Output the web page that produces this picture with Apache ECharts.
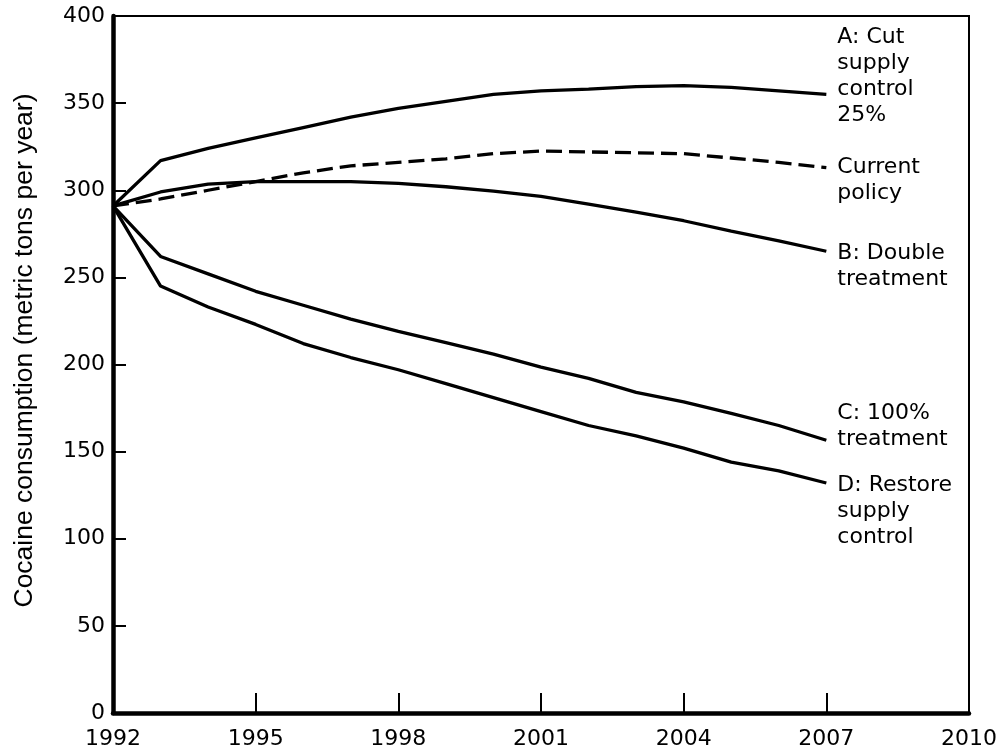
<!DOCTYPE html>
<html>
<head>
<meta charset="utf-8">
<script src="https://cdn.jsdelivr.net/npm/echarts@6/dist/echarts.min.js"></script>
<style>
  html, body { margin: 0; padding: 0; background: #fff; }
  #chart { width: 1008px; height: 753px; }
</style>
</head>
<body>
<div id="chart"></div>
<script>
// years along the x axis
const years = [1992, 1993, 1994, 1995, 1996, 1997, 1998, 1999, 2000, 2001, 2002, 2003, 2004, 2005, 2006, 2007];

// cocaine consumption, metric tons per year
const cutSupply25 = [291, 317, 324, 330, 336, 342, 347, 351, 355, 357, 358, 359.5, 360, 359, 357, 355];
const currentPolicy = [291, 295, 300, 305, 310, 314, 316, 318, 321, 322.5, 322, 321.5, 321, 318.5, 316, 313];
const doubleTreatment = [291, 299, 303.5, 305, 305, 305, 304, 302, 299.5, 296.5, 292, 287.5, 282.5, 276.5, 271, 265];
const fullTreatment = [291, 262, 252, 242, 234, 226, 219, 212.5, 206, 198.5, 192, 184, 178.5, 172, 165, 156.5];
const restoreSupply = [291, 245, 233, 223, 212, 204, 197, 189, 181, 173, 165, 159, 152, 144, 139, 132];

// end-of-line labels
const labelA = "A: Cut\nsupply\ncontrol\n25%";
const labelCurrent = "Current\npolicy";
const labelB = "B: Double\ntreatment";
const labelC = "C: 100%\ntreatment";
const labelD = "D: Restore\nsupply\ncontrol";

const FONT = "'DejaVu Sans', Verdana, sans-serif";
const TITLE_FONT = "'Liberation Sans', Arial, Helvetica, sans-serif";

const pairs = (vals) => years.map((y, i) => [y, vals[i]]);

const makeSeries = (name, vals, text, dy, dashed) => ({
  name: name,
  type: "line",
  data: pairs(vals),
  symbol: "none",
  smooth: false,
  lineStyle: {
    color: "#000",
    width: 3.3,
    type: dashed ? [16, 7] : "solid",
  },
  endLabel: {
    show: true,
    formatter: () => text,
    color: "#000",
    fontFamily: FONT,
    fontSize: 22,
    lineHeight: 26,
    align: "left",
    verticalAlign: "top",
    distance: 11,
    offset: [0, dy],
  },
  z: 3,
});

const chart = echarts.init(document.getElementById("chart"), null, { renderer: "canvas" });

const option = {
  animation: false,
  backgroundColor: "#fff",
  grid: {
    left: 113,
    right: 39,
    top: 16,
    bottom: 40,
    show: true,
    borderColor: "#000",
    borderWidth: 2,
    backgroundColor: "transparent",
  },
  xAxis: {
    type: "value",
    min: 1992,
    max: 2010,
    interval: 3,
    axisLine: { show: true, onZero: false, lineStyle: { color: "#000", width: 4.5 } },
    axisTick: { show: true, inside: true, length: 20, lineStyle: { color: "#000", width: 2 } },
    splitLine: { show: false },
    axisLabel: {
      color: "#000",
      fontFamily: FONT,
      fontSize: 22,
      margin: 15,
      showMinLabel: true,
      showMaxLabel: true,
      formatter: (v) => String(v),
    },
  },
  yAxis: {
    type: "value",
    min: 0,
    max: 400,
    interval: 50,
    name: "Cocaine consumption (metric tons per year)",
    nameLocation: "middle",
    nameGap: 75,
    nameRotate: 90,
    nameTextStyle: {
      color: "#000",
      fontFamily: TITLE_FONT,
      fontSize: 26.5,
      padding: [0, 0, 0, 28],
    },
    axisLine: { show: true, lineStyle: { color: "#000", width: 4.5 } },
    axisTick: { show: true, inside: true, length: 13, lineStyle: { color: "#000", width: 2 } },
    splitLine: { show: false },
    axisLabel: {
      color: "#000",
      fontFamily: FONT,
      fontSize: 22,
      margin: 8,
    },
  },
  series: [
    makeSeries("A", cutSupply25, labelA, -70, false),
    makeSeries("Current policy", currentPolicy, labelCurrent, -13, true),
    makeSeries("B", doubleTreatment, labelB, -11, false),
    makeSeries("C", fullTreatment, labelC, -40, false),
    makeSeries("D", restoreSupply, labelD, -11, false),
  ],
};

chart.setOption(option);
</script>
</body>
</html>
